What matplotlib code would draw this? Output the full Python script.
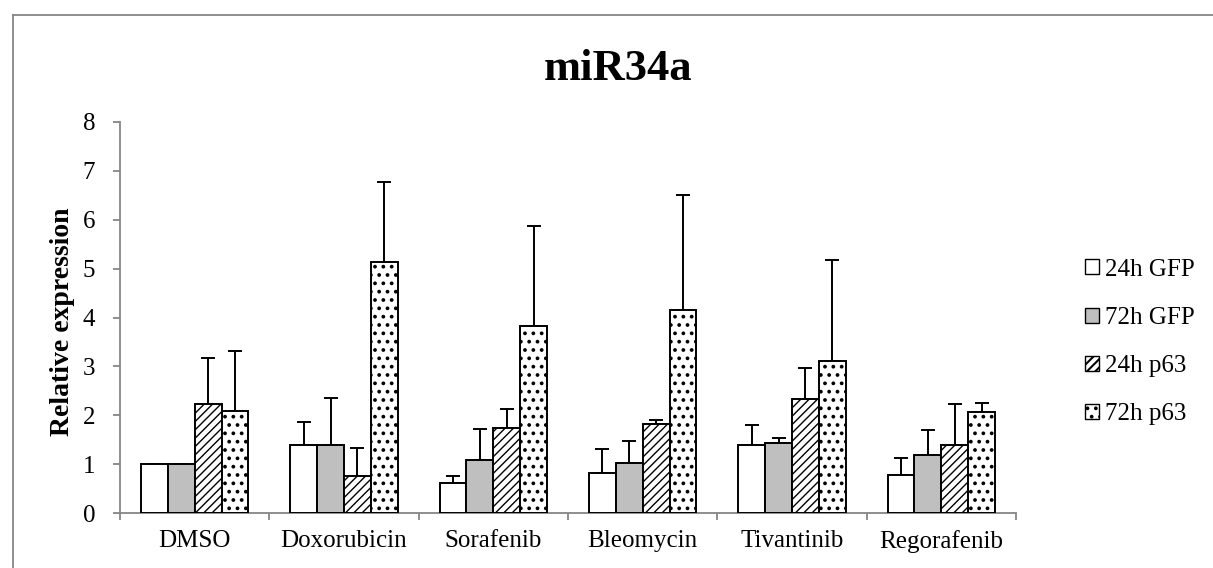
import matplotlib
matplotlib.use("Agg")
import matplotlib.pyplot as plt
import numpy as np
from matplotlib.patches import Patch
from matplotlib.lines import Line2D

# --- data -------------------------------------------------------------
categories = ["DMSO", "Doxorubicin", "Sorafenib", "Bleomycin", "Tivantinib", "Regorafenib"]
series_names = ["24h GFP", "72h GFP", "24h p63", "72h p63"]

gfp_24h = [1.00, 1.39, 0.61, 0.81, 1.39, 0.77]
gfp_72h = [1.00, 1.39, 1.09, 1.02, 1.43, 1.18]
p63_24h = [2.23, 0.76, 1.74, 1.82, 2.34, 1.39]
p63_72h = [2.08, 5.13, 3.83, 4.15, 3.11, 2.07]

gfp_24h_err = [0.00, 0.48, 0.14, 0.49, 0.42, 0.36]
gfp_72h_err = [0.00, 0.97, 0.62, 0.45, 0.10, 0.51]
p63_24h_err = [0.95, 0.57, 0.38, 0.08, 0.63, 0.84]
p63_72h_err = [1.24, 1.65, 2.04, 2.35, 2.07, 0.19]

y_ticks = [0, 1, 2, 3, 4, 5, 6, 7, 8]

# --- style ------------------------------------------------------------
plt.rcParams["font.family"] = ["Liberation Serif", "DejaVu Serif"]
AXIS_GREY = "#868686"
W, H, DPI = 1213, 568, 100

fig = plt.figure(figsize=(W / DPI, H / DPI), dpi=DPI)
ax = fig.add_axes([120 / W, 1 - 513 / H, 896 / W, (513 - 122) / H])

values = [gfp_24h, gfp_72h, p63_24h, p63_72h]
errors = [gfp_24h_err, gfp_72h_err, p63_24h_err, p63_72h_err]
fills = ["white", "#bfbfbf", "white", "white"]
hatches = [None, None, "////", ".."]
hatch_widths = [1.0, 1.0, 1.0, 1.5]

n_cat = len(categories)
centers = np.arange(n_cat) + 0.5
bar_w = 0.18

legend_handles = []
for k, (vals, errs, fc, ht, hw) in enumerate(zip(values, errors, fills, hatches, hatch_widths)):
    plt.rcParams["hatch.linewidth"] = hw
    x = centers + (k - 1.5) * bar_w
    bars = ax.bar(
        x, vals, width=bar_w, color=fc, edgecolor="black", linewidth=1.4,
        hatch=ht, zorder=3,
        yerr=[np.zeros(n_cat), errs],
        error_kw=dict(ecolor="black", elinewidth=1.4, capsize=5, capthick=1.4, zorder=2),
    )
    handle = Patch(facecolor=fc, edgecolor="black", linewidth=1.0,
                   hatch=ht, label=series_names[k])
    for artist in list(bars) + [handle]:
        if hasattr(artist, "set_hatch_linewidth"):
            artist.set_hatch_linewidth(hw)
    legend_handles.append(handle)

# --- axes -------------------------------------------------------------
ax.set_xlim(0, n_cat)
ax.set_ylim(0, 8)
ax.set_yticks(y_ticks)
ax.set_yticklabels([str(t) for t in y_ticks])
ax.set_xticks(centers)
ax.set_xticklabels(categories)
ax.set_xticks(np.arange(n_cat + 1), minor=True)

for side in ["top", "right"]:
    ax.spines[side].set_visible(False)
for side in ["left", "bottom"]:
    ax.spines[side].set_color(AXIS_GREY)
    ax.spines[side].set_linewidth(1.3)

ax.tick_params(axis="y", which="major", direction="out", length=5, width=1.3,
               color=AXIS_GREY, labelsize=18, pad=13)
ax.tick_params(axis="x", which="major", length=0, labelsize=18, pad=12)
ax.tick_params(axis="x", which="minor", direction="out", length=5, width=1.3,
               color=AXIS_GREY)

ax.set_ylabel("Relative expression", fontsize=20, fontweight="bold")
ax.yaxis.set_label_coords(-0.05, 0.49)

fig.text(618 / W, 1 - 80 / H, "miR34a", fontsize=32, fontweight="bold",
         ha="center", va="baseline")

fig.legend(handles=legend_handles, loc="center left",
           bbox_to_anchor=(1085 / W, 1 - 342 / H), frameon=False,
           fontsize=18, handlelength=0.55, handleheight=0.55,
           handletextpad=0.25, labelspacing=1.05, borderpad=0, borderaxespad=0)

# outer chart border
fig.add_artist(Line2D([13 / W, 1.0], [1 - 15 / H, 1 - 15 / H],
                      transform=fig.transFigure, color=AXIS_GREY, linewidth=1.3))
fig.add_artist(Line2D([13 / W, 13 / W], [0.0, 1 - 15 / H],
                      transform=fig.transFigure, color=AXIS_GREY, linewidth=1.3))

fig.savefig("out.png", dpi=DPI)
